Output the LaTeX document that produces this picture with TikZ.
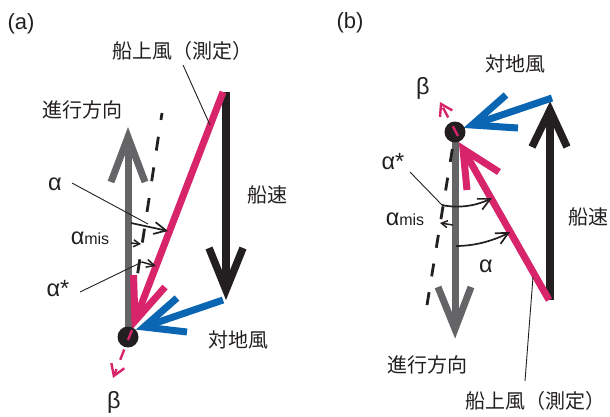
\documentclass[tikz,border=0pt]{standalone}
\usepackage{fontspec}
\setmainfont{Liberation Sans}
\newfontfamily\jp{Noto Sans CJK JP}
\usetikzlibrary{arrows.meta}
\definecolor{mag}{RGB}{215,36,107}
\definecolor{blu}{RGB}{10,102,178}
\definecolor{gry}{RGB}{101,101,104}
\definecolor{blk}{RGB}{35,31,32}
\begin{document}
\begin{tikzpicture}[x=1pt,y=-1pt,
  fat/.style={line width=7pt, line cap=butt, line join=miter},
  jptext/.style={font=\jp\fontsize{20}{24}\selectfont, inner sep=0pt, text=blk},
  gk/.style={font=\fontsize{23.5}{26}\selectfont, inner sep=0pt, text=blk},
  lab/.style={font=\fontsize{22}{26}\selectfont, inner sep=0pt, text=blk},
  leader/.style={line width=0.9pt, draw=blk},
  angarrow/.style={line width=1.7pt, draw=blk, -{Straight Barb[length=12pt,width=12pt]}},
  smallarrow/.style={line width=1.5pt, draw=blk, -{Straight Barb[length=6pt,width=7pt]}},
  dashline/.style={line width=2.8pt, draw=blk, dash pattern=on 14pt off 17pt},
  magdash/.style={line width=2.4pt, draw=mag, dash pattern=on 11pt off 10pt, -{Straight Barb[length=11pt,width=14pt]}},
  dotstyle/.style={fill=blk, draw=none},
]
\useasboundingbox (0,0) rectangle (610,416);

% ================= (a) =================
\coordinate (aDot) at (128,337);
% gray: heading
\coordinate (aGv) at (128,137);
\draw[fat, draw=gry] (aDot) -- (aGv);
\draw[fat, draw=gry] (111,182) -- (aGv) -- (145,182);
% black: ship speed
\coordinate (aKs) at (226,92);
\coordinate (aKv) at (226,290);
\draw[fat, line width=7.5pt, draw=blk] (aKs) -- (aKv);
\draw[fat, line width=7.5pt, draw=blk] (209,248) -- (aKv) -- (243,248);
% dashed black
\coordinate (aDt) at (162,113);
\coordinate (aDb) at (137,278);
\draw[dashline, dash pattern=on 7pt off 17pt on 14pt off 17pt on 14pt off 17pt on 14pt off 17pt on 14pt off 17pt on 14pt off 17pt on 14pt off 17pt] (aDt) -- (aDb);
% magenta: measured wind
\coordinate (aMs) at (223,92);
\coordinate (aMv) at (135,321);
\draw[fat, draw=mag] (aMs) -- (aMv);
\draw[fat, draw=mag] (133.5,275) -- (aMv) -- (165,287);
% blue: ground wind
\coordinate (aBs) at (223,300);
\coordinate (aBv) at (144,327);
\draw[fat, draw=blu] (aBs) -- (aBv);
\draw[fat, draw=blu] (177,298) -- (aBv) -- (187,332);
% dot
\fill[dotstyle] (aDot) circle[radius=10.5];
% magenta dashed beta arrow
\coordinate (aBt) at (113,378);
\draw[magdash] (132,330) -- (aBt);

% angle marks
\coordinate (aA1) at (131,223);
\coordinate (aA2) at (168,231);
\draw[angarrow] (aA1) -- (aA2);
\coordinate (aM1) at (131,243);
\coordinate (aM2) at (141,244);
\draw[smallarrow] (aM1) -- (aM2);
\coordinate (aS1) at (142,262);
\coordinate (aS2) at (156,266);
\draw[smallarrow, -{Straight Barb[length=8pt,width=8pt]}] (aS1) -- (aS2);

% labels
\node[lab] (la) at (21,24) {(a)};
\node[jptext] (aShipW) at (182,51) {船上風（測定）};
\node[jptext] (aDir) at (82,110) {進行方向};
\node[jptext] (aSpd) at (267,195) {船速};
\node[jptext] (aGW) at (238,340) {対地風};
\node[gk] (aAl) at (55,184) {α};
\node[gk] (aAm) at (90,238) {α{\fontsize{16}{18}\selectfont mis}};
\node[gk] (aAs) at (58,289) {α*};
\node[gk] (aBe) at (114,402) {β};

% leaders
\coordinate (aL1) at (183,65);
\coordinate (aL2) at (210,125);
\draw[leader] (aL1) -- (aL2);
\coordinate (aL3) at (72,183);
\coordinate (aL4) at (148,224);
\draw[leader] (aL3) -- (aL4);
\coordinate (aL5) at (80,292);
\draw[leader] (aL5) -- (aS1);

% ================= (b) =================
\coordinate (bDot) at (455,132);
% gray: heading (down)
\coordinate (bGv) at (455,329);
\draw[fat, draw=gry] (455,140) -- (bGv);
\draw[fat, draw=gry] (438,287) -- (bGv) -- (471,287);
% dashed black
\coordinate (bDb) at (427,305);
\coordinate (bDt) at (453,145);
\draw[dashline, dash pattern=on 13pt off 16pt] (bDb) -- (bDt);
% black: ship speed (up)
\coordinate (bKs) at (550,300);
\coordinate (bKv) at (550,110);
\draw[fat, line width=7.5pt, draw=blk] (bKs) -- (bKv);
\draw[fat, line width=7.5pt, draw=blk] (532,147) -- (bKv) -- (567,147);
% magenta: measured wind
\coordinate (bMs) at (549,300);
\coordinate (bMv) at (463,149);
\draw[fat, draw=mag] (bMs) -- (bMv);
\draw[fat, draw=mag] (467,190) -- (bMv) -- (499,172);
% blue: ground wind
\coordinate (bBs) at (552,98);
\coordinate (bBv) at (472,125);
\draw[fat, draw=blu] (bBs) -- (bBv);
\draw[fat, draw=blu] (506,95) -- (bBv) -- (518,128);
% dot
\fill[dotstyle] (bDot) circle[radius=10.5];
% magenta dashed beta arrow
\coordinate (bBt) at (440,102);
\draw[magdash] (458,136) -- (bBt);

% angle marks
\coordinate (bS0) at (442,205);
\coordinate (bS2) at (492,198);
\draw[angarrow] (bS0) .. controls (460,209) and (478,205) .. (bS2);
\coordinate (bM1) at (453,225);
\coordinate (bM2) at (440,223);
\draw[smallarrow] (bM1) -- (bM2);
\coordinate (bA1) at (456,246);
\coordinate (bA2) at (510,232);
\draw[angarrow] (bA1) .. controls (476,246) and (495,240) .. (bA2);

% labels
\node[lab] (lb) at (350,23) {(b)};
\node[jptext] (bGW) at (515,64) {対地風};
\node[gk] (bBe) at (423,88) {β};
\node[gk] (bAs) at (393,162) {α*};
\node[gk] (bAm) at (405,219) {α{\fontsize{16}{18}\selectfont mis}};
\node[gk] (bAl) at (486,266) {α};
\node[jptext] (bSpd) at (588,217) {船速};
\node[jptext] (bDir) at (427,365) {進行方向};
\node[jptext] (bShipW) at (535,401) {船上風（測定）};

% leaders
\coordinate (bL1) at (410,172);
\draw[leader] (bL1) -- (bS0);
\coordinate (bL2) at (533,277);
\coordinate (bL3) at (525,381);
\draw[leader] (bL2) -- (bL3);
\end{tikzpicture}
\end{document}
